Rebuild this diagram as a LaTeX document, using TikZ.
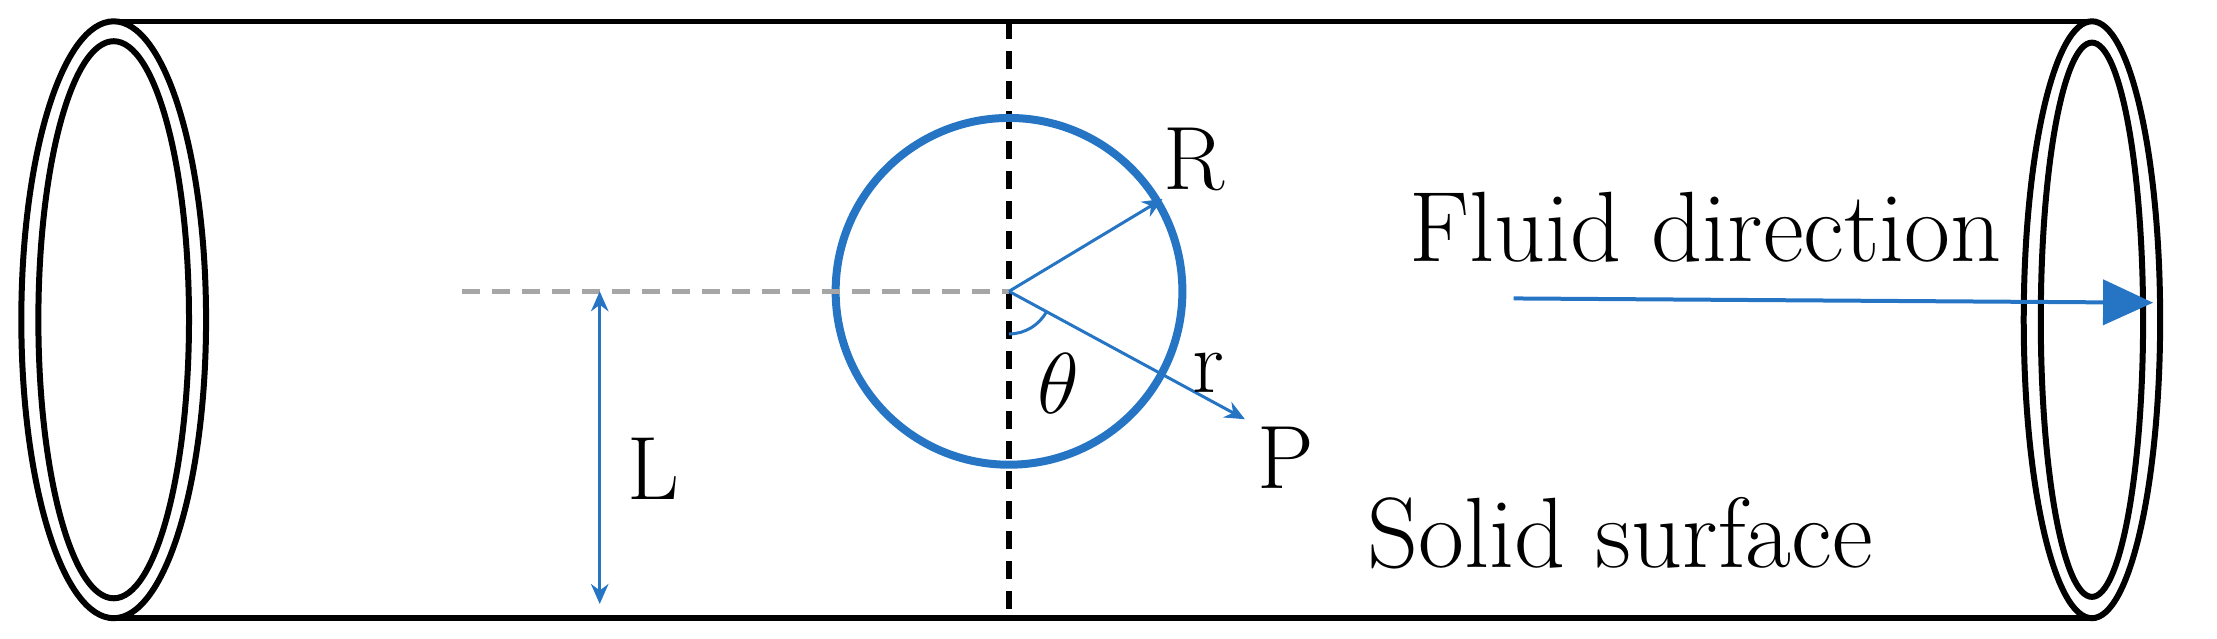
\documentclass[tikz,border=0pt]{standalone}
\usetikzlibrary{arrows.meta}
\definecolor{myblue}{RGB}{38,117,196}
\begin{document}
\begin{tikzpicture}[x=0.01cm,y=-0.01cm,
 lbl/.style={font=\fontsize{18}{20}\selectfont,inner sep=0pt},
 big/.style={font=\fontsize{20}{23}\selectfont,inner sep=0pt},
 ring/.style={line width=1.2pt,black},
 >={Stealth[length=4pt,width=3.5pt]}]
\useasboundingbox (0,0) rectangle (1560,449);
\draw[line width=1.1pt] (80,15) -- (1472,15);
\draw[line width=1.1pt] (80,435) -- (1472,435);
\draw[ring] (80,225) ellipse [x radius=65,y radius=210];
\draw[ring] (80,225) ellipse [x radius=53,y radius=196];
\draw[ring] (1472,225) ellipse [x radius=48,y radius=210];
\draw[ring] (1472,225) ellipse [x radius=36,y radius=195];
\draw[line width=1.2pt,dash pattern=on 3.6pt off 2.4pt] (710,15) -- (710,435);
\coordinate (O) at (710,205);
\draw[myblue,line width=1.6pt] (O) circle [radius=122];
\coordinate (G) at (325,205);
\draw[gray!70,line width=1.1pt,dash pattern=on 3.6pt off 2.4pt] (G) -- (O);
\coordinate (L1) at (422,205);
\coordinate (L2) at (422,425);
\draw[myblue,line width=0.6pt,<->] (L1) -- (L2);
\node[lbl] (Ltext) at (460,330) {L};
\coordinate (Rend) at (818,140);
\coordinate (Pend) at (876,295);
\draw[myblue,line width=0.6pt,->] (O) -- (Rend);
\draw[myblue,line width=0.6pt,->] (O) -- (Pend);
\draw[myblue,line width=0.6pt] ([shift={(0,30)}]O) arc[start angle=90,end angle=28,radius=30];
\node[lbl] (Rt) at (840,112) {R};
\node[lbl] (rt) at (850,262) {r};
\node[lbl] (Pt) at (905,322) {P};
\node[lbl] (th) at (745,270) {$\theta$};
\node[big] (fd) at (1200,160) {Fluid direction};
\coordinate (F1) at (1065,210);
\coordinate (F2) at (1515,213);
\draw[myblue,line width=0.8pt,-{Triangle[length=10pt,width=9pt]}] (F1) -- (F2);
\node[big] (ss) at (1140,375) {Solid surface};
\end{tikzpicture}
\end{document}
